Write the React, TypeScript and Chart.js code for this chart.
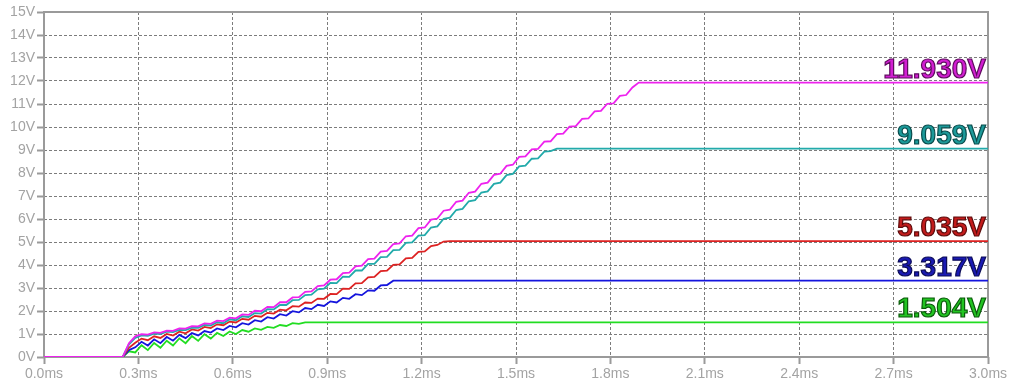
import React, { useEffect, useRef } from "react";
import { Chart, registerables } from "chart.js";

Chart.register(...registerables);

// Time samples (ms) of the ramp phase, shared by all traces
const rampTimes = [
  0.25, 0.27, 0.29, 0.31, 0.33, 0.35, 0.37, 0.39, 0.41, 0.43,
  0.45, 0.47, 0.49, 0.51, 0.53, 0.55, 0.57, 0.59, 0.61, 0.63,
  0.65, 0.67, 0.69, 0.71, 0.73, 0.75, 0.77, 0.79, 0.81, 0.83,
  0.85, 0.87, 0.89, 0.91, 0.93, 0.95, 0.97, 0.99, 1.01, 1.03,
  1.05, 1.07, 1.09, 1.11, 1.13, 1.15, 1.17, 1.19, 1.21, 1.23,
  1.25, 1.27, 1.29, 1.31, 1.33, 1.35, 1.37, 1.39, 1.41, 1.43,
  1.45, 1.47, 1.49, 1.51, 1.53, 1.55, 1.57, 1.59, 1.61, 1.63,
  1.65, 1.67, 1.69, 1.71, 1.73, 1.75, 1.77, 1.79, 1.81, 1.83,
  1.85, 1.87, 1.89,
];
const endTime = 3.0;

// Voltages (V) at rampTimes; the last value holds to endTime
const magentaV = [
  0, 0.60, 0.90, 0.99, 0.97, 1.07, 1.05, 1.15, 1.14, 1.24,
  1.23, 1.34, 1.33, 1.46, 1.44, 1.58, 1.56, 1.71, 1.68, 1.85,
  1.83, 2.01, 1.99, 2.18, 2.17, 2.38, 2.38, 2.59, 2.60, 2.83,
  2.85, 3.08, 3.11, 3.36, 3.38, 3.65, 3.67, 3.94, 3.97, 4.26,
  4.28, 4.58, 4.61, 4.91, 4.94, 5.25, 5.28, 5.60, 5.63, 5.97,
  6.02, 6.36, 6.41, 6.75, 6.80, 7.14, 7.19, 7.53, 7.58, 7.92,
  7.97, 8.31, 8.36, 8.70, 8.72, 9.03, 9.05, 9.36, 9.38, 9.69,
  9.71, 10.02, 10.04, 10.35, 10.37, 10.68, 10.70, 11.01, 11.03, 11.35,
  11.39, 11.72, 11.93,
];
const cyanV = [
  0, 0.55, 0.83, 0.94, 0.92, 1.02, 1.00, 1.10, 1.08, 1.18,
  1.17, 1.28, 1.27, 1.39, 1.37, 1.51, 1.47, 1.64, 1.60, 1.77,
  1.74, 1.91, 1.89, 2.08, 2.07, 2.26, 2.26, 2.47, 2.48, 2.69,
  2.71, 2.94, 2.97, 3.22, 3.21, 3.49, 3.48, 3.76, 3.76, 4.05,
  4.05, 4.34, 4.35, 4.65, 4.66, 4.96, 4.98, 5.28, 5.30, 5.63,
  5.68, 6.01, 6.06, 6.39, 6.44, 6.77, 6.82, 7.15, 7.20, 7.53,
  7.58, 7.91, 7.96, 8.29, 8.32, 8.62, 8.64, 8.93, 8.95, 9.059,
];
const redV = [
  0, 0.40, 0.62, 0.80, 0.73, 0.90, 0.83, 1.00, 0.93, 1.10,
  1.03, 1.20, 1.15, 1.31, 1.26, 1.42, 1.38, 1.54, 1.50, 1.66,
  1.62, 1.79, 1.75, 1.92, 1.89, 2.06, 2.03, 2.21, 2.19, 2.37,
  2.35, 2.54, 2.53, 2.74, 2.73, 2.97, 2.96, 3.20, 3.21, 3.46,
  3.48, 3.73, 3.75, 4.01, 4.03, 4.29, 4.31, 4.57, 4.59, 4.82,
  4.87, 5.02, 5.035,
];
const blueV = [
  0, 0.30, 0.42, 0.66, 0.50, 0.77, 0.60, 0.87, 0.71, 0.96,
  0.82, 1.04, 0.94, 1.13, 1.06, 1.24, 1.17, 1.35, 1.29, 1.47,
  1.41, 1.60, 1.54, 1.73, 1.67, 1.86, 1.80, 1.99, 1.94, 2.13,
  2.08, 2.27, 2.22, 2.42, 2.37, 2.57, 2.53, 2.73, 2.69, 2.90,
  2.88, 3.11, 3.13, 3.317,
];
const greenV = [
  0, 0.25, 0.20, 0.51, 0.30, 0.61, 0.40, 0.71, 0.50, 0.81,
  0.60, 0.91, 0.70, 0.99, 0.80, 1.05, 0.91, 1.11, 1.00, 1.17,
  1.10, 1.24, 1.18, 1.31, 1.27, 1.39, 1.35, 1.47, 1.44, 1.504,
];

const finalLabels = ["11.930V", "9.059V", "5.035V", "3.317V", "1.504V"];

const xTickValues = [0, 0.3, 0.6, 0.9, 1.2, 1.5, 1.8, 2.1, 2.4, 2.7, 3.0];
const yTickValues = [0, 1, 2, 3, 4, 5, 6, 7, 8, 9, 10, 11, 12, 13, 14, 15];

const seriesValues = [magentaV, cyanV, redV, blueV, greenV];
const seriesStyles = [
  { line: "#ee22ee", fill: "#d21ed2", stroke: "#5c0a5c" },
  { line: "#22aaaa", fill: "#1c9a9a", stroke: "#0a4c4c" },
  { line: "#dd2222", fill: "#c41c1c", stroke: "#5a0a0a" },
  { line: "#1515dd", fill: "#1a1ab4", stroke: "#0a0a55" },
  { line: "#22dd22", fill: "#22c422", stroke: "#0a5a0a" },
];

const FONT = '"Liberation Sans", Arial, sans-serif';

function buildPoints(values: number[]) {
  const pts = [{ x: 0, y: 0 }];
  values.forEach((v, i) => pts.push({ x: rampTimes[i], y: v }));
  pts.push({ x: endTime, y: values[values.length - 1] });
  return pts;
}

const framePlugin = {
  id: "frameAndLabels",
  beforeDatasetsDraw(chart: any) {
    const { ctx, chartArea } = chart;
    const { left, right, top, bottom } = chartArea;
    ctx.save();
    ctx.setLineDash([]);
    ctx.strokeStyle = "#9a9a9a";
    ctx.lineWidth = 2;
    ctx.strokeRect(left, top, right - left, bottom - top);
    ctx.restore();
  },
  afterDatasetsDraw(chart: any) {
    const { ctx, chartArea } = chart;
    const yScale = chart.scales.y;
    ctx.save();
    ctx.font = `bold 28px ${FONT}`;
    ctx.textAlign = "right";
    ctx.textBaseline = "alphabetic";
    seriesValues.forEach((vals, i) => {
      const v = vals[vals.length - 1];
      const py = yScale.getPixelForValue(v) - 5;
      const px = chartArea.right - 2;
      ctx.fillStyle = seriesStyles[i].fill;
      ctx.fillText(finalLabels[i], px, py);
      ctx.lineWidth = 1.2;
      ctx.strokeStyle = seriesStyles[i].stroke;
      ctx.strokeText(finalLabels[i], px, py);
    });
    ctx.restore();
  },
};

export default function App() {
  const canvasRef = useRef<HTMLCanvasElement | null>(null);

  useEffect(() => {
    document.body.style.margin = "0";
    const canvas = canvasRef.current;
    if (!canvas) return;
    const chart = new Chart(canvas, {
      type: "line",
      data: {
        datasets: seriesValues.map((vals, i) => ({
          label: finalLabels[i],
          data: buildPoints(vals),
          borderColor: seriesStyles[i].line,
          backgroundColor: seriesStyles[i].line,
          borderWidth: 1.8,
          pointRadius: 0,
          tension: 0,
          fill: false,
        })),
      },
      options: {
        responsive: false,
        animation: false,
        layout: { padding: { top: 12, right: 24, left: 0, bottom: 0 } },
        plugins: {
          legend: { display: false },
          tooltip: { enabled: false },
        },
        scales: {
          x: {
            type: "linear",
            min: 0,
            max: 3,
            afterBuildTicks: (s: any) => {
              s.ticks = xTickValues.map((v) => ({ value: v }));
            },
            afterFit: (s: any) => {
              s.height = 30;
            },
            ticks: {
              autoSkip: false,
              maxRotation: 0,
              padding: 2,
              color: "#a3a3a3",
              font: { size: 14, family: FONT },
              callback: (v: any) => Number(v).toFixed(1) + "ms",
            },
            grid: {
              color: "#7c7c7c",
              lineWidth: 1,
              drawTicks: true,
              tickLength: 7,
              tickColor: "#9a9a9a",
              tickWidth: 2,
            },
            border: { display: false, dash: [3, 2] },
          },
          y: {
            type: "linear",
            min: 0,
            max: 15,
            afterBuildTicks: (s: any) => {
              s.ticks = yTickValues.map((v) => ({ value: v }));
            },
            afterFit: (s: any) => {
              s.width = 44;
            },
            ticks: {
              autoSkip: false,
              padding: 2,
              color: "#a3a3a3",
              font: { size: 14, family: FONT },
              callback: (v: any) => v + "V",
            },
            grid: {
              color: "#7c7c7c",
              lineWidth: 1,
              drawTicks: true,
              tickLength: 7,
              tickColor: "#9a9a9a",
              tickWidth: 2,
            },
            border: { display: false, dash: [3, 2] },
          },
        },
      },
      plugins: [framePlugin],
    });
    return () => chart.destroy();
  }, []);

  return (
    <div style={{ width: 1012, height: 387, background: "#fff" }}>
      <canvas ref={canvasRef} width={1012} height={387} style={{ display: "block" }} />
    </div>
  );
}
